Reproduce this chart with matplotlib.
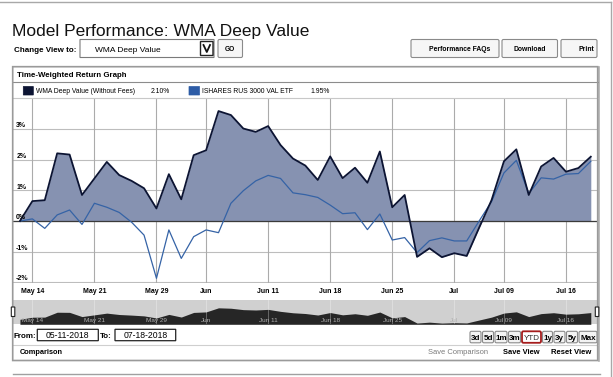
import matplotlib
matplotlib.use("Agg")
import matplotlib.pyplot as plt
import numpy as np
import pandas as pd
from matplotlib.transforms import Affine2D, offset_copy
from matplotlib.lines import Line2D
from matplotlib.patches import FancyBboxPatch

plt.rcParams['font.family'] = ['Liberation Sans', 'DejaVu Sans']

#----------data----------
dates = pd.bdate_range("2018-05-11", "2018-07-18", freq="C",
                       holidays=["2018-05-28", "2018-07-04"])
wma = [0.00, 0.65, 0.68, 2.21, 2.17, 0.85, 1.39, 1.93, 1.50, 1.31,
       1.07, 0.41, 1.53, 0.71, 2.15, 2.31, 3.59, 3.46, 3.02, 2.91,
       3.10, 2.48, 2.04, 1.81, 1.34, 2.11, 1.40, 1.74, 1.25, 2.27,
       0.45, 0.85, -1.17, -0.89, -1.18, -1.05, -1.14, -0.22, 0.68, 1.95,
       2.34, 0.85, 1.78, 2.06, 1.61, 1.73, 2.10]
ishares = [0.00, 0.07, -0.24, 0.20, 0.36, -0.11, 0.58, 0.45, 0.28, -0.04,
           -0.46, -1.87, -0.29, -1.22, -0.51, -0.29, -0.38, 0.58, 0.99, 1.31,
           1.49, 1.39, 0.92, 0.86, 0.77, 0.52, 0.24, 0.27, -0.28, 0.23,
           -0.62, -0.54, -1.03, -0.64, -0.55, -0.65, -0.65, 0.00, 0.63, 1.57,
           1.98, 0.90, 1.41, 1.37, 1.53, 1.55, 1.95]
tick_dates = ["2018-05-14", "2018-05-21", "2018-05-29", "2018-06-04", "2018-06-11",
              "2018-06-18", "2018-06-25", "2018-07-02", "2018-07-09", "2018-07-16"]
tick_labels = ["May 14", "May 21", "May 29", "Jun", "Jun 11",
               "Jun 18", "Jun 25", "Jul", "Jul 09", "Jul 16"]
y_ticks = [-2, -1, 0, 1, 2, 3]
series_names = ["WMA Deep Value (Without Fees)", "ISHARES RUS 3000 VAL ETF"]
series_last = ["2.10%", "1.95%"]
range_buttons = ["3d", "5d", "1m", "3m", "YTD", "1y", "3y", "5y", "Max"]
from_date = "05-11-2018"
to_date = "07-18-2018"

x = np.arange(len(dates))
tick_pos = [dates.get_loc(pd.Timestamp(d)) for d in tick_dates]

DARK = "#0c1433"
BLUE = "#3563a6"
FILL = "#8692b1"

fig = plt.figure(figsize=(6.13, 3.77), dpi=100)
fig.patch.set_facecolor("white")
# pixel coords, y going down
T = Affine2D().scale(1 / 613, -1 / 377).translate(0, 1) + fig.transFigure


def ftext(px, py, s, **kw):
    fig.text(px, py, s, transform=T, **kw)


def pline(xs, ys, **kw):
    fig.add_artist(Line2D(xs, ys, transform=T, **kw))


def pbox(x0, y0, x1, y1, fc="white", ec="#999999", lw=0.8, r=0.0, z=1):
    fig.add_artist(FancyBboxPatch((x0, y0), x1 - x0, y1 - y0,
                                  boxstyle="round,pad=0,rounding_size=%s" % r,
                                  transform=T, fc=fc, ec=ec, lw=lw, zorder=z))


#----------page header----------
pline([0, 610.5], [1.5, 1.5], color="#a8a8a8", lw=1)
pline([610.5, 610.5], [1.5, 377], color="#a8a8a8", lw=1)
ftext(12.5, 36, "Model Performance: WMA Deep Value", fontsize=12.5, color="#111111", va="baseline")
ftext(13.5, 51.5, "Change View to:", fontsize=5.8, fontweight="bold", va="baseline")
pbox(80, 39.5, 214, 57.5, ec="#7a7a7a", lw=0.8)
ftext(95, 51.5, "WMA Deep Value", fontsize=6.0, va="baseline")
pbox(200.5, 41.5, 213, 55.5, ec="#222222", lw=1.0)
pline([203.5, 206.8, 210], [45, 52, 45], color="#111111", lw=1.3)
pbox(218, 39.5, 242.5, 57.5, fc="#f6f6f6", ec="#8a8a8a", lw=0.8, r=1.5)
ftext(230.2, 51, "GO", fontsize=4.8, fontweight="bold", ha="center", va="baseline")
for (bx0, bx1, lab, cx) in [(411, 499, "Performance FAQs", 460),
                            (502, 557.5, "Download", 529.5),
                            (561, 597, "Print", 586)]:
    pbox(bx0, 39.5, bx1, 57.5, fc="#f6f6f6", ec="#8a8a8a", lw=0.8, r=1.5)
    ftext(cx, 51, lab, fontsize=4.9, fontweight="bold", ha="center", va="baseline")

#----------panel----------
pbox(12.7, 66.7, 597.7, 360.5, fc="none", ec="#9a9a9a", lw=1.2, z=5)
pline([598.6, 598.6], [67, 361], color="#b0b0b0", lw=1.2)
pline([12.7, 597.7], [82.3, 82.3], color="#8c8c8c", lw=0.8)
ftext(17.3, 77.3, "Time-Weighted Return Graph", fontsize=5.7, fontweight="bold", va="baseline")
pline([12.7, 597.7], [97.8, 97.8], color="#c8c8c8", lw=0.8)
pbox(23.3, 86.5, 33.3, 95, fc=DARK, ec=DARK, lw=0.5)
ftext(36, 93.2, series_names[0], fontsize=4.9, va="baseline")
ftext(151, 93.2, series_last[0], fontsize=4.9, va="baseline")
pbox(189, 86.5, 199.5, 95, fc="#2d5ca6", ec="#2d5ca6", lw=0.5)
ftext(202, 93.2, series_names[1], fontsize=4.9, va="baseline")
ftext(310, 93.2, series_last[1], fontsize=4.9, va="baseline")

#----------main chart----------
ax = fig.add_axes([13 / 613, 1 - 282.6 / 377, 584 / 613, (282.6 - 98.2) / 377])
ax.set_xlim(-0.56, 46.5)
ax.set_ylim(-2.01, 4.01)
for v in y_ticks:
    ax.axhline(v, color="#bdbdbd", lw=0.8, zorder=0)
for p in tick_pos:
    ax.axvline(p, color="#ababab", lw=0.8, zorder=0)
ax.fill_between(x, 0, wma, color=FILL, lw=0, zorder=1)
ax.axhline(0, color="#3a3a3a", lw=0.9, zorder=2)
ax.plot(x, ishares, color=BLUE, lw=0.9, zorder=3)
ax.plot(x, wma, color=DARK, lw=1.3, zorder=4)
ax.set_yticks([])
ax.set_xticks(tick_pos)
ax.set_xticklabels(tick_labels, fontsize=5, fontweight="bold")
ax.tick_params(axis="x", length=0, pad=3.6)
for s in ax.spines.values():
    s.set_visible(False)
ylab_tr = offset_copy(ax.get_yaxis_transform(), fig=fig, x=0, y=1.8, units="dots")
for v in y_ticks:
    ax.text(0.0055, v, "%d%%" % v, transform=ylab_tr, fontsize=5, fontweight="bold",
            va="baseline", ha="left", zorder=6)

#----------navigator----------
nav = fig.add_axes([13 / 613, 1 - 324.3 / 377, 584 / 613, 24.3 / 377])
nav.set_facecolor("#d0d0d0")
nav.set_xlim(-0.56, 46.5)
nav.set_ylim(-1.56, 6.03)
nav.fill_between(x, -1.56, wma, color="#262626", lw=0)
for p in tick_pos:
    nav.axvline(p, color="white", lw=0.6, alpha=0.35)
nav_tr = offset_copy(nav.get_xaxis_transform(), fig=fig, x=0, y=0, units="dots")
for p, lab in zip(tick_pos, tick_labels):
    nav.text(p, 0.09, lab, transform=nav_tr, fontsize=4.6, color="#b0b0b0",
             ha="center", va="baseline")
nav.set_xticks([])
nav.set_yticks([])
for s in nav.spines.values():
    s.set_visible(False)
pbox(11.3, 307, 14.8, 316.5, fc="white", ec="#222222", lw=0.8, z=6)
pbox(595.3, 307, 598.8, 316.5, fc="white", ec="#222222", lw=0.8, z=6)

#----------bottom controls----------
ftext(13.5, 337.5, "From:", fontsize=5.8, fontweight="bold", va="baseline")
pbox(37.3, 329.3, 98.3, 340.7, ec="#222222", lw=0.9)
ftext(67.8, 338.5, from_date, fontsize=6.2, ha="center", va="baseline")
ftext(100, 337.5, "To:", fontsize=5.8, fontweight="bold", va="baseline")
pbox(115, 329.3, 175.7, 340.7, ec="#222222", lw=0.9)
ftext(145.4, 338.5, to_date, fontsize=6.2, ha="center", va="baseline")

bw = {"3d": 11, "5d": 11, "1m": 12, "3m": 12, "YTD": 19, "1y": 10, "3y": 11, "5y": 11, "Max": 18}
bx = 597.0
for lab in reversed(range_buttons):
    w = bw[lab]
    x0 = bx - w
    if lab == "YTD":
        pbox(x0, 331.3, bx, 342.8, fc="white", ec="#a51c1c", lw=1.3, r=1.5)
        ftext(x0 + w / 2, 340, lab, fontsize=5.8, color="#333333", ha="center", va="baseline")
    else:
        pbox(x0, 331.3, bx, 342.8, fc="#f3f3f3", ec="#8a8a8a", lw=0.8, r=1.5)
        ftext(x0 + w / 2, 340, lab, fontsize=5.8, fontweight="bold", ha="center", va="baseline")
    bx = x0 - 1.5

pline([12.7, 597.7], [344.8, 344.8], color="#cfcfcf", lw=0.8)
ftext(20, 354.5, "Comparison", fontsize=5.3, fontweight="bold", va="baseline")
ftext(428, 354.5, "Save Comparison", fontsize=5.45, color="#7a7a7a", va="baseline")
ftext(503, 354.5, "Save View", fontsize=5.4, fontweight="bold", va="baseline")
ftext(551, 354.5, "Reset View", fontsize=5.5, fontweight="bold", va="baseline")
pline([12.7, 600], [373.5, 373.5], color="#a0a0a0", lw=1)

fig.savefig("out.png", dpi=100, facecolor="white")
